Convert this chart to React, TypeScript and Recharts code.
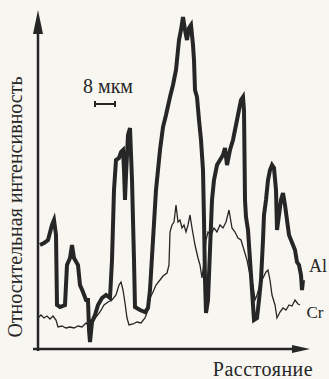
import React from 'react';
import { LineChart, Line, XAxis, YAxis, ReferenceLine, ReferenceDot } from 'recharts';

// Distance (arbitrary units) and relative intensity (arbitrary units)
const alDistance = [2, 6, 10, 14, 16, 18, 19, 22, 27, 29, 32, 34, 36, 40, 42, 45, 48, 50, 51, 52, 54, 57, 60, 64, 68, 72, 74, 76, 78, 81, 83, 85, 86, 87, 88, 90, 92, 94, 96, 97, 102, 107, 110, 112, 115, 118, 122, 125, 128, 132, 135, 138, 141, 143, 145, 147, 149, 151, 153, 155, 156, 157, 159, 161, 163, 165, 166, 167, 168, 170, 172, 174, 176, 179, 182, 185, 187, 189, 192, 195, 198, 201, 203, 205, 206, 207, 208, 210, 212, 214, 216, 219, 221, 223, 225, 226, 228, 230, 232, 234, 236, 238, 239, 241, 243, 245, 247, 249, 251, 253, 255, 257, 259, 261, 263, 264, 265];
const alIntensity = [104, 106, 109, 124, 129, 114, 44, 42, 44, 84, 91, 104, 91, 84, 64, 57, 49, 49, 19, 7, 27, 34, 44, 51, 54, 51, 89, 159, 189, 191, 197, 199, 179, 149, 174, 214, 221, 169, 89, 42, 39, 37, 41, 59, 109, 159, 199, 222, 234, 252, 264, 279, 309, 319, 332, 319, 309, 321, 324, 304, 289, 259, 252, 229, 209, 179, 129, 69, 36, 49, 99, 149, 169, 184, 189, 194, 201, 184, 199, 209, 224, 239, 249, 252, 239, 149, 132, 119, 89, 59, 29, 31, 49, 69, 109, 134, 149, 169, 179, 184, 181, 159, 119, 134, 149, 156, 144, 129, 114, 109, 104, 99, 87, 84, 74, 59, 69];

const crDistance = [0, 3, 6, 9, 12, 15, 18, 20, 24, 28, 32, 36, 40, 44, 48, 50, 52, 55, 58, 62, 66, 70, 74, 78, 81, 83, 85, 87, 89, 91, 95, 99, 103, 107, 110, 112, 115, 118, 122, 125, 129, 131, 132, 134, 136, 138, 140, 142, 144, 146, 148, 150, 152, 154, 157, 160, 162, 164, 166, 168, 170, 173, 176, 179, 182, 185, 188, 191, 194, 197, 200, 203, 206, 209, 212, 215, 217, 219, 222, 225, 228, 230, 232, 234, 237, 239, 242, 245, 248, 251, 254, 257, 260, 262];
const crIntensity = [31, 34, 31, 33, 30, 33, 29, 22, 23, 21, 22, 21, 23, 22, 26, 24, 29, 27, 32, 37, 44, 47, 49, 54, 64, 67, 59, 46, 31, 24, 25, 27, 26, 31, 39, 51, 57, 64, 69, 73, 76, 84, 117, 124, 127, 144, 127, 129, 121, 124, 117, 124, 134, 121, 104, 91, 84, 71, 87, 109, 117, 114, 121, 117, 124, 121, 127, 139, 121, 117, 111, 109, 99, 89, 74, 64, 49, 54, 64, 71, 77, 79, 69, 54, 44, 31, 37, 41, 39, 44, 43, 49, 45, 44];

const seriesLabels = ['Al', 'Cr'];
const axisTitles = ['Относительная интенсивность', 'Расстояние'];
const scaleLabel = '8 мкм';

const alData = alDistance.map((d, i) => ({ d, v: alIntensity[i] }));
const crData = crDistance.map((d, i) => ({ d, v: crIntensity[i] }));

const INK = '#262626';
const FONT = '"Liberation Serif", "DejaVu Serif", serif';

const ArrowRight = (props: any) => {
  const { cx, cy } = props;
  return <polygon points={`${cx},${cy} ${cx - 18},${cy - 4} ${cx - 18},${cy + 4}`} fill={INK} />;
};
const ArrowUp = (props: any) => {
  const { cx, cy } = props;
  return <polygon points={`${cx},${cy} ${cx - 5},${cy + 24} ${cx + 5},${cy + 24}`} fill={INK} />;
};

export default function App() {
  return (
    <div style={{ position: 'absolute', left: 0, top: 0, width: 329, height: 379, background: '#f8f6f0', overflow: 'hidden' }}>
      <LineChart width={329} height={379} data={alData} margin={{ top: 10, right: 9, bottom: 30, left: 38 }}>
        <XAxis dataKey="d" type="number" domain={[0, 282]} hide allowDataOverflow />
        <YAxis type="number" domain={[0, 339]} hide allowDataOverflow />
        <ReferenceLine segment={[{ x: -5, y: 0 }, { x: 258, y: 0 }]} stroke={INK} strokeWidth={2.5} ifOverflow="visible" />
        <ReferenceLine segment={[{ x: 0, y: -2 }, { x: 0, y: 320 }]} stroke={INK} strokeWidth={2.5} ifOverflow="visible" />
        <ReferenceDot x={272} y={0} r={1} shape={ArrowRight} ifOverflow="visible" />
        <ReferenceDot x={0} y={339} r={1} shape={ArrowUp} ifOverflow="visible" />
        <Line data={crData} dataKey="v" type="linear" stroke={INK} strokeWidth={1.3} dot={false} isAnimationActive={false} />
        <Line data={alData} dataKey="v" type="linear" stroke={INK} strokeWidth={4} strokeLinejoin="miter" dot={false} isAnimationActive={false} />
      </LineChart>
      <div style={{ position: 'absolute', left: 15, top: 207, transform: 'translate(-50%, -50%) rotate(-90deg)', whiteSpace: 'nowrap', fontFamily: FONT, fontSize: 20, color: INK }}>
        {axisTitles[0]}
      </div>
      <div style={{ position: 'absolute', left: 263, top: 369, transform: 'translate(-50%, -50%)', whiteSpace: 'nowrap', fontFamily: FONT, fontSize: 20, color: INK, letterSpacing: 0.5 }}>
        {axisTitles[1]}
      </div>
      <div style={{ position: 'absolute', left: 83, top: 86, transform: 'translate(0, -50%)', whiteSpace: 'nowrap', fontFamily: FONT, fontSize: 20, color: INK }}>
        {scaleLabel}
      </div>
      <div style={{ position: 'absolute', left: 94, top: 103, width: 21, height: 2, background: INK }} />
      <div style={{ position: 'absolute', left: 94, top: 101, width: 1.5, height: 6, background: INK }} />
      <div style={{ position: 'absolute', left: 114, top: 101, width: 1.5, height: 6, background: INK }} />
      <div style={{ position: 'absolute', left: 318, top: 266, transform: 'translate(-50%, -50%)', fontFamily: FONT, fontSize: 18, color: INK, whiteSpace: 'nowrap' }}>
        {seriesLabels[0]}
      </div>
      <div style={{ position: 'absolute', left: 315, top: 313, transform: 'translate(-50%, -50%)', fontFamily: FONT, fontSize: 17, color: INK, whiteSpace: 'nowrap' }}>
        {seriesLabels[1]}
      </div>
    </div>
  );
}
